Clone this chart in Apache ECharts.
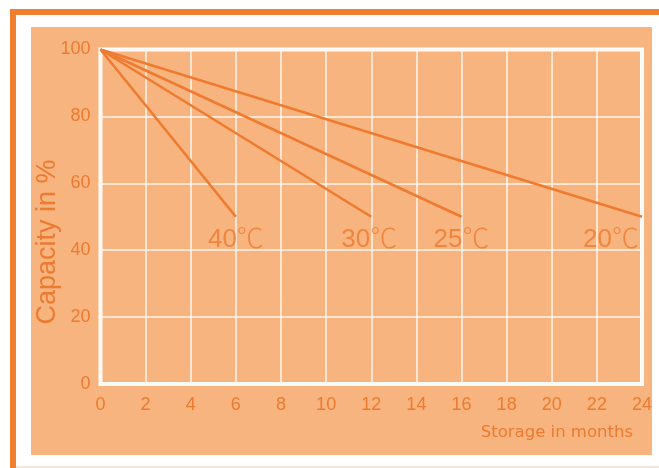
<!DOCTYPE html>
<html>
<head>
<meta charset="utf-8">
<script src="https://cdn.jsdelivr.net/npm/echarts@6/dist/echarts.min.js"></script>
<style>
html,body{margin:0;padding:0;background:#fff;}
#c{width:659px;height:468px;}
</style>
</head>
<body>
<div id="c"></div>
<script>
// ---- data ----
const line40 = [[0, 100], [6, 50]];
const line30 = [[0, 100], [12, 50]];
const line25 = [[0, 100], [16, 50]];
const line20 = [[0, 100], [24, 50]];
const temperatures = [40, 30, 25, 20];
const xTicks = [0, 2, 4, 6, 8, 10, 12, 14, 16, 18, 20, 22, 24];
const yTicks = [0, 20, 40, 60, 80, 100];
const xTitle = 'Storage in months';
const yTitle = 'Capacity in %';

// ---- styles ----
const ORANGE = '#EE7B30';
const TEXT = '#EC7A30';
const PANEL = '#F8B47F';
const lines = [line40, line30, line25, line20];
const labelOffsets = [[0, 0], [-2, 0], [0, 0], [-31, 0]];

const chart = echarts.init(document.getElementById('c'), null, {renderer: 'canvas'});

const lineSeries = lines.map((d, i) => ({
  type: 'line',
  name: temperatures[i] + '℃',
  data: d,
  symbol: 'none',
  lineStyle: {color: ORANGE, width: 2.6},
  z: 3,
  silent: true
}));

const labelSeries = {
  type: 'scatter',
  symbolSize: 1,
  itemStyle: {color: 'rgba(0,0,0,0)'},
  z: 4,
  silent: true,
  data: lines.map((d, i) => ({
    value: d[d.length - 1],
    label: {offset: labelOffsets[i]}
  })),
  label: {
    show: true,
    position: 'bottom',
    distance: 7,
    formatter: p => '{n|' + temperatures[p.dataIndex] + '}{c|℃}',
    rich: {
      n: {fontFamily: 'Liberation Sans, Arial', fontSize: 26, color: TEXT},
      c: {fontFamily: 'Noto Sans CJK SC', fontSize: 27, fontWeight: 300, color: TEXT, padding: [0, 0, 4, 0]}
    }
  }
};

chart.setOption({
  animation: false,
  backgroundColor: '#FFFFFF',
  graphic: [
    {type: 'rect', z: -20, shape: {x: 10, y: 9, width: 649, height: 6}, style: {fill: '#F08031'}},
    {type: 'rect', z: -20, shape: {x: 10, y: 9, width: 6, height: 459}, style: {fill: '#F08031'}},
    {type: 'rect', z: -20, shape: {x: 16, y: 466, width: 643, height: 2}, style: {fill: '#F6E6DA'}},
    {type: 'rect', z: -19, shape: {x: 31, y: 27, width: 621, height: 428}, style: {fill: PANEL}},
    {type: 'text', z: 5, x: 48, y: 242, rotation: Math.PI / 2,
      style: {text: yTitle, fill: TEXT, font: '27px "Liberation Sans", Arial', align: 'center', verticalAlign: 'middle'}},
    {type: 'text', z: 5, x: 633, y: 433,
      style: {text: xTitle, fill: TEXT, font: '16.5px "DejaVu Sans"', align: 'right', verticalAlign: 'middle'}}
  ],
  grid: {
    left: 100.5, right: 17, top: 49.5, bottom: 84,
    show: true, borderColor: '#FFFFFF', borderWidth: 4, backgroundColor: 'transparent'
  },
  xAxis: {
    type: 'value', min: 0, max: 24, interval: 2,
    axisLine: {show: false}, axisTick: {show: false},
    splitLine: {show: true, lineStyle: {color: '#FFF6EE', width: 1.5}},
    axisLabel: {
      margin: 12, fontSize: 18, color: TEXT, fontFamily: 'Liberation Sans, Arial',
      formatter: v => xTicks.includes(v) ? String(v) : ''
    }
  },
  yAxis: {
    type: 'value', min: 0, max: 100, interval: 20,
    axisLine: {show: false}, axisTick: {show: false},
    splitLine: {show: true, lineStyle: {color: '#FFF6EE', width: 1.5}},
    axisLabel: {
      margin: 10, fontSize: 18, color: TEXT, fontFamily: 'Liberation Sans, Arial',
      padding: [0, 0, 5, 0],
      formatter: v => yTicks.includes(v) ? String(v) : ''
    }
  },
  series: [...lineSeries, labelSeries]
});
</script>
</body>
</html>
